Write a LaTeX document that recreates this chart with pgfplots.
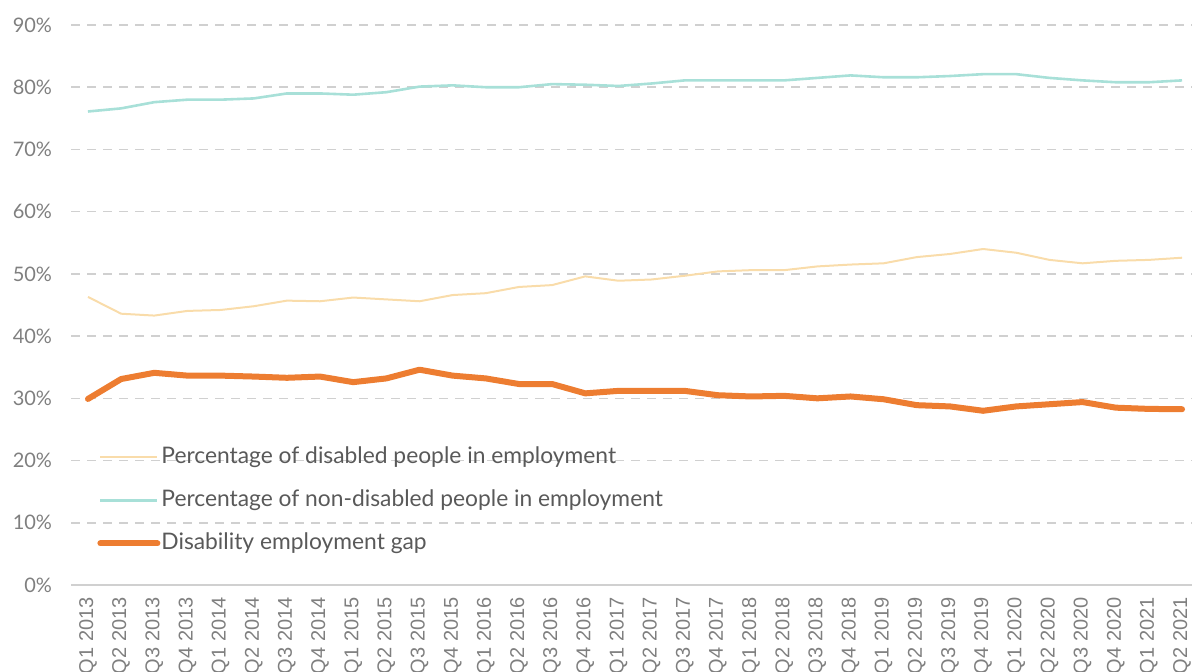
\documentclass[border=0pt]{standalone}
\usepackage{pgfplots}
\pgfplotsset{compat=1.18}
\usepackage{pgfplotstable}
\usepackage{fontspec}
\setmainfont{Lato}
\newfontfamily\xfont{Liberation Sans}
\definecolor{ndcol}{HTML}{A8E0D8}
\definecolor{dcol}{HTML}{F9DCAA}
\definecolor{gapcol}{HTML}{ED7D31}
\definecolor{gridcol}{HTML}{D0D0D0}
\definecolor{txtcol}{HTML}{595959}
\definecolor{tickcol}{HTML}{7F7F7F}
\pgfplotstableread{
i nd d gap
0 76.1 46.3 29.9
1 76.6 43.6 33.1
2 77.6 43.3 34.1
3 78.0 44.05 33.65
4 78.0 44.2 33.65
5 78.2 44.8 33.5
6 79.0 45.7 33.3
7 79.0 45.6 33.5
8 78.8 46.2 32.6
9 79.2 45.9 33.2
10 80.1 45.6 34.6
11 80.3 46.6 33.65
12 80.0 46.9 33.2
13 80.0 47.9 32.3
14 80.5 48.2 32.3
15 80.4 49.6 30.8
16 80.2 48.9 31.2
17 80.6 49.1 31.2
18 81.1 49.7 31.2
19 81.1 50.4 30.5
20 81.1 50.6 30.3
21 81.1 50.6 30.4
22 81.5 51.2 30.0
23 81.9 51.5 30.3
24 81.6 51.7 29.85
25 81.6 52.7 28.9
26 81.8 53.2 28.7
27 82.1 54.0 28.0
28 82.1 53.4 28.7
29 81.5 52.25 29.05
30 81.1 51.7 29.4
31 80.8 52.1 28.5
32 80.8 52.25 28.3
33 81.1 52.6 28.25
}\data
\begin{document}
\begin{tikzpicture}
\path[use as bounding box] (-35.7pt,-43.5pt) rectangle (560.3pt,292.5pt);
\clip (-35.7pt,-43.5pt) rectangle (560.3pt,292.5pt);
\begin{axis}[
  scale only axis,
  width=563.6pt, height=280pt,
  xmin=-0.5, xmax=33.5,
  ymin=0, ymax=90,
  axis x line*=bottom,
  axis y line*=left,
  y axis line style={draw=none},
  x axis line style={draw=gridcol, line width=1pt},
  major tick length=0pt,
  ytick={0,10,...,90},
  yticklabel={\pgfmathprintnumber{\tick}\%},
  /pgf/number format/assume math mode=true,
  yticklabel style={font=\fontsize{10}{12}\selectfont, text=tickcol, anchor=east, inner sep=0pt, xshift=-9.5pt},
  xtick={0,...,33},
  xticklabels={Q1 2013,Q2 2013,Q3 2013,Q4 2013,Q1 2014,Q2 2014,Q3 2014,Q4 2014,Q1 2015,Q2 2015,Q3 2015,Q4 2015,Q1 2016,Q2 2016,Q3 2016,Q4 2016,Q1 2017,Q2 2017,Q3 2017,Q4 2017,Q1 2018,Q2 2018,Q3 2018,Q4 2018,Q1 2019,Q2 2019,Q3 2019,Q4 2019,Q1 2020,Q2 2020,Q3 2020,Q4 2020,Q1 2021,Q2 2021},
  xticklabel style={font=\xfont\fontsize{10}{12}\selectfont, text=tickcol, rotate=90, anchor=east, inner sep=0pt, yshift=0pt, xshift=-6pt},
  ymajorgrids,
  major grid style={draw=gridcol, line width=0.75pt, dash pattern=on 4.5pt off 3.5pt},
  legend cell align=left,
  legend style={at={(0.0227,0.2500)}, anchor=north west, draw=none, fill=none,
    font=\fontsize{11.4}{13}\selectfont, text=txtcol, inner sep=0pt,
    row sep=9.5pt, nodes={inner sep=0.5pt, text height=8.5pt, text depth=2.5pt}},
  legend image code/.code={\draw[#1] (0pt,0pt) -- (28.5pt,0pt);},
]
\addplot[dcol, line width=1pt, line join=round] table[x=i, y=d] {\data};
\addlegendentry{Percentage of disabled people in employment}
\addplot[ndcol, line width=1.3pt, line join=round] table[x=i, y=nd] {\data};
\addlegendentry{Percentage of non-disabled people in employment}
\addplot[gapcol, line width=3pt, line join=round, line cap=round] table[x=i, y=gap] {\data};
\addlegendentry{Disability employment gap}
\end{axis}
\end{tikzpicture}
\end{document}
